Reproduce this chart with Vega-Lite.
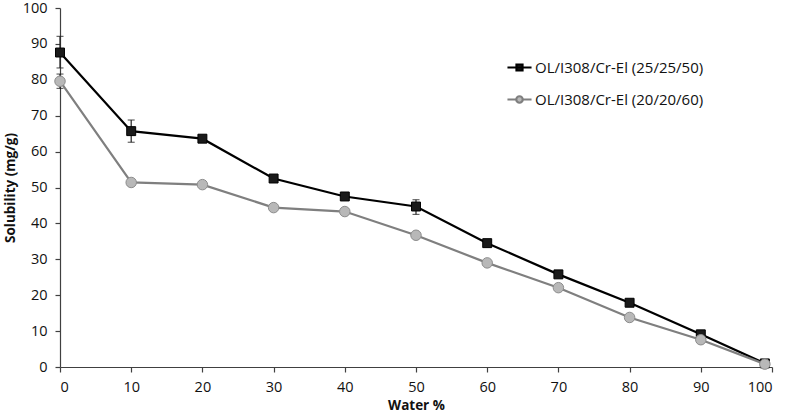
{
  "$schema": "https://vega.github.io/schema/vega-lite/v6.json",
  "width": 712,
  "height": 359,
  "autosize": "none",
  "padding": {"left": 60, "top": 8, "right": 15, "bottom": 47},
  "background": "white",
  "config": {
    "view": {"stroke": null},
    "font": "Open Sans",
    "axis": {"grid": false, "domainColor": "#404040", "tickColor": "#404040", "labelColor": "#111", "titleColor": "#111", "labelFont": "Open Sans", "titleFont": "Open Sans", "labelFontSize": 14.5, "titleFontSize": 13.5, "titleFontWeight": "bold", "tickSize": 5, "domainWidth": 1.2, "tickWidth": 1.2, "labelOverlap": false, "labelBound": false, "tickCount": 10},
    "axisX": {"labelPadding": 8, "titlePadding": 5},
    "axisY": {"labelPadding": 8, "titlePadding": 5}
  },
  "datasets": {
    "pts": [
      {"water": 0, "series": "OL/I308/Cr-El (25/25/50)", "sol": 87.6},
      {"water": 10, "series": "OL/I308/Cr-El (25/25/50)", "sol": 65.7},
      {"water": 20, "series": "OL/I308/Cr-El (25/25/50)", "sol": 63.6},
      {"water": 30, "series": "OL/I308/Cr-El (25/25/50)", "sol": 52.5},
      {"water": 40, "series": "OL/I308/Cr-El (25/25/50)", "sol": 47.5},
      {"water": 50, "series": "OL/I308/Cr-El (25/25/50)", "sol": 44.7},
      {"water": 60, "series": "OL/I308/Cr-El (25/25/50)", "sol": 34.5},
      {"water": 70, "series": "OL/I308/Cr-El (25/25/50)", "sol": 25.8},
      {"water": 80, "series": "OL/I308/Cr-El (25/25/50)", "sol": 17.9},
      {"water": 90, "series": "OL/I308/Cr-El (25/25/50)", "sol": 9.1},
      {"water": 99, "series": "OL/I308/Cr-El (25/25/50)", "sol": 1.0},
      {"water": 0, "series": "OL/I308/Cr-El (20/20/60)", "sol": 79.6},
      {"water": 10, "series": "OL/I308/Cr-El (20/20/60)", "sol": 51.4},
      {"water": 20, "series": "OL/I308/Cr-El (20/20/60)", "sol": 50.8},
      {"water": 30, "series": "OL/I308/Cr-El (20/20/60)", "sol": 44.4},
      {"water": 40, "series": "OL/I308/Cr-El (20/20/60)", "sol": 43.3},
      {"water": 50, "series": "OL/I308/Cr-El (20/20/60)", "sol": 36.7},
      {"water": 60, "series": "OL/I308/Cr-El (20/20/60)", "sol": 29.0},
      {"water": 70, "series": "OL/I308/Cr-El (20/20/60)", "sol": 22.1},
      {"water": 80, "series": "OL/I308/Cr-El (20/20/60)", "sol": 13.8},
      {"water": 90, "series": "OL/I308/Cr-El (20/20/60)", "sol": 7.6},
      {"water": 99, "series": "OL/I308/Cr-El (20/20/60)", "sol": 0.8}
    ],
    "err": [
      {"water": 0, "series": "OL/I308/Cr-El (25/25/50)", "lo": 83.3, "hi": 92.1},
      {"water": 10, "series": "OL/I308/Cr-El (25/25/50)", "lo": 62.6, "hi": 68.8},
      {"water": 50, "series": "OL/I308/Cr-El (25/25/50)", "lo": 42.5, "hi": 46.6},
      {"water": 0, "series": "OL/I308/Cr-El (20/20/60)", "lo": 77.6, "hi": 81.6}
    ]
  },
  "layer": [
    {
      "data": {"name": "err"},
      "mark": {"type": "rule", "color": "#222", "strokeWidth": 1.2},
      "encoding": {
        "x": {"field": "water", "type": "quantitative", "scale": {"domain": [0, 100], "nice": false}, "title": "Water %"},
        "y": {"field": "lo", "type": "quantitative", "scale": {"domain": [0, 100], "nice": false}, "title": "Solubility (mg/g)"},
        "y2": {"field": "hi"}
      }
    },
    {
      "data": {"name": "err"},
      "mark": {"type": "tick", "color": "#222", "size": 7, "thickness": 1.2, "orient": "horizontal"},
      "encoding": {
        "x": {"field": "water", "type": "quantitative", "title": "Water %"},
        "y": {"field": "lo", "type": "quantitative", "title": "Solubility (mg/g)"}
      }
    },
    {
      "data": {"name": "err"},
      "mark": {"type": "tick", "color": "#222", "size": 7, "thickness": 1.2, "orient": "horizontal"},
      "encoding": {
        "x": {"field": "water", "type": "quantitative", "title": "Water %"},
        "y": {"field": "hi", "type": "quantitative", "title": "Solubility (mg/g)"}
      }
    },
    {
      "data": {"name": "pts"},
      "mark": {"type": "line", "strokeWidth": 2.2},
      "encoding": {
        "x": {"field": "water", "type": "quantitative", "title": "Water %"},
        "y": {"field": "sol", "type": "quantitative", "title": "Solubility (mg/g)"},
        "detail": {"field": "series"},
        "color": {"condition": {"test": "datum.series == 'OL/I308/Cr-El (25/25/50)'", "value": "#000000"}, "value": "#7f7f7f"}
      }
    },
    {
      "data": {"name": "pts"},
      "mark": {"type": "point", "filled": true, "strokeWidth": 1},
      "encoding": {
        "x": {"field": "water", "type": "quantitative", "title": "Water %"},
        "y": {"field": "sol", "type": "quantitative", "title": "Solubility (mg/g)"},
        "shape": {"condition": {"test": "datum.series == 'OL/I308/Cr-El (25/25/50)'", "value": "square"}, "value": "circle"},
        "size": {"condition": {"test": "datum.series == 'OL/I308/Cr-El (25/25/50)'", "value": 80}, "value": 110},
        "fill": {"condition": {"test": "datum.series == 'OL/I308/Cr-El (25/25/50)'", "value": "#1a1a1a"}, "value": "#b8b8b8"},
        "stroke": {"condition": {"test": "datum.series == 'OL/I308/Cr-El (25/25/50)'", "value": "#000000"}, "value": "#8c8c8c"},
        "opacity": {"value": 1}
      }
    },
    {
      "data": {"name": "pts"},
      "mark": {"type": "point", "filled": true, "opacity": 0},
      "encoding": {
        "x": {"field": "water", "type": "quantitative", "title": "Water %"},
        "y": {"field": "sol", "type": "quantitative", "title": "Solubility (mg/g)"},
        "shape": {"field": "series", "type": "nominal", "sort": null,
          "scale": {"domain": ["OL/I308/Cr-El (25/25/50)", "OL/I308/Cr-El (20/20/60)"], "range": ["M-1,0H1M-0.25,-0.25H0.25V0.25H-0.25Z", "M-1,0H-0.27M0.27,0H1M0.27,0A0.27,0.27 0 1 1 -0.27,0A0.27,0.27 0 1 1 0.27,0Z"]},
          "legend": {"title": null, "orient": "none", "legendX": 446, "legendY": 46, "symbolSize": 580, "symbolOpacity": 1, "symbolStrokeWidth": 2.2, "labelFontSize": 15, "labelFont": "Open Sans", "labelColor": "#111", "rowPadding": 10, "labelOffset": 2, "labelLimit": 400}},
        "fill": {"field": "series", "type": "nominal", "scale": {"domain": ["OL/I308/Cr-El (25/25/50)", "OL/I308/Cr-El (20/20/60)"], "range": ["#1a1a1a", "#b8b8b8"]}},
        "stroke": {"field": "series", "type": "nominal", "scale": {"domain": ["OL/I308/Cr-El (25/25/50)", "OL/I308/Cr-El (20/20/60)"], "range": ["#000000", "#7f7f7f"]}}
      }
    }
  ]
}
